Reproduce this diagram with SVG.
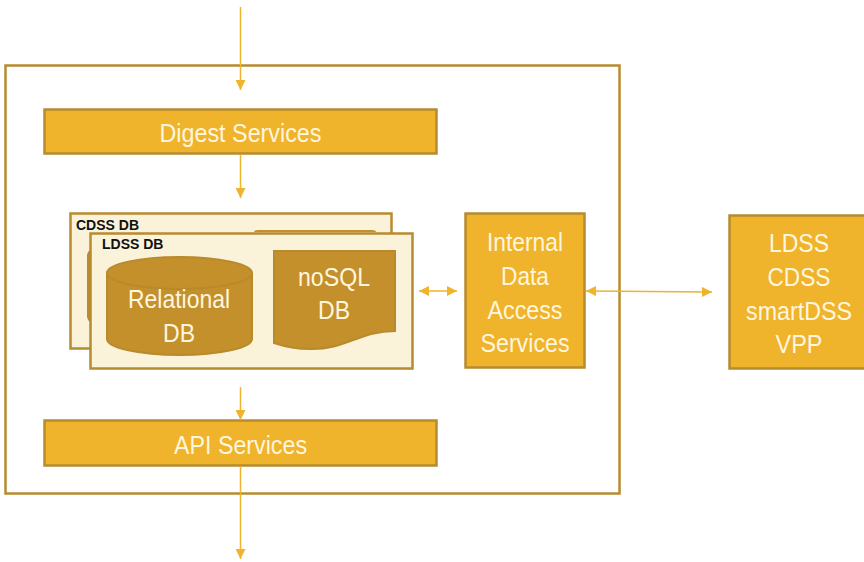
<svg xmlns="http://www.w3.org/2000/svg" width="864" height="562" viewBox="0 0 864 562">
<defs>
<marker id="ah" viewBox="0 0 10 10" refX="10" refY="5" markerWidth="10" markerHeight="10" markerUnits="userSpaceOnUse" orient="auto-start-reverse"><path d="M0 0L10 5L0 10Z" fill="#EFB32C"/></marker>
</defs>
<style>
.box{fill:#EFB32C;stroke:#B78B2F;stroke-width:2.5}
.panel{fill:#FAF2D9;stroke:#B78B2F;stroke-width:2.5}
.dark{fill:#C4902B;stroke:#B98A2C;stroke-width:2}
.t{font-family:"Liberation Sans",Arial,sans-serif;font-size:26px;fill:#FFF6DF;text-anchor:middle}
.l{font-family:"Liberation Sans",Arial,sans-serif;font-size:14px;font-weight:bold;fill:#111}
.c{stroke:#EFB32C;stroke-width:1.5;fill:none}
.a{marker-end:url(#ah)}
.b{marker-start:url(#ah);marker-end:url(#ah)}
</style>
<g id="system"><rect x="5.500" y="65.500" width="614" height="428" fill="#fff" stroke="#B78B2F" stroke-width="2.500"/></g>
<g id="digest"><rect class="box" x="44.500" y="109.500" width="392" height="44"/><text class="t" x="240.500" y="142" textLength="162" lengthAdjust="spacingAndGlyphs">Digest Services</text></g>
<g id="cdss-db"><rect class="panel" x="70.500" y="213.500" width="321" height="135"/>
<path d="M254 232Q254 230 258 230L372 230Q376 230 376 232Z" fill="#C4902B"/>
<path d="M92 249L92 323Q87 321 87 316L87 256Q87 251 92 249Z" fill="#B78B2F"/>
<text class="l" x="76" y="230">CDSS DB</text></g>
<g id="ldss-db"><rect class="panel" x="90.500" y="233.500" width="322" height="135"/><text class="l" x="102" y="249">LDSS DB</text></g>
<g id="relational"><path class="dark" d="M107 274L107 339A72.500 16 0 0 0 252 339L252 274A72.500 16 0 0 0 107 274Z"/><ellipse class="dark" cx="179.500" cy="273" rx="72.500" ry="16"/><text class="t" x="179" y="308" textLength="102" lengthAdjust="spacingAndGlyphs">Relational</text><text class="t" x="179" y="342" textLength="32" lengthAdjust="spacingAndGlyphs">DB</text></g>
<g id="nosql"><path class="dark" d="M274 251L395 251L395 331C360 331 345 350 310 349C295 349 283 346 274 343Z"/><text class="t" x="334" y="286" textLength="72" lengthAdjust="spacingAndGlyphs">noSQL</text><text class="t" x="334" y="319" textLength="32" lengthAdjust="spacingAndGlyphs">DB</text></g>
<g id="internal"><rect class="box" x="465.500" y="213.500" width="119" height="154"/><text class="t" x="525" y="251" textLength="76" lengthAdjust="spacingAndGlyphs">Internal</text><text class="t" x="525" y="285" textLength="48" lengthAdjust="spacingAndGlyphs">Data</text><text class="t" x="525" y="319" textLength="75" lengthAdjust="spacingAndGlyphs">Access</text><text class="t" x="525" y="352" textLength="89" lengthAdjust="spacingAndGlyphs">Services</text></g>
<g id="external"><rect class="box" x="729.500" y="215.500" width="140" height="153"/><text class="t" x="799" y="252" textLength="60" lengthAdjust="spacingAndGlyphs">LDSS</text><text class="t" x="799" y="286" textLength="63" lengthAdjust="spacingAndGlyphs">CDSS</text><text class="t" x="799" y="320" textLength="106" lengthAdjust="spacingAndGlyphs">smartDSS</text><text class="t" x="799" y="353" textLength="47" lengthAdjust="spacingAndGlyphs">VPP</text></g>
<g id="api"><rect class="box" x="44.500" y="420.500" width="392" height="45"/><text class="t" x="240.500" y="454" textLength="133" lengthAdjust="spacingAndGlyphs">API Services</text></g>
<g id="connectors">
<line class="c a" x1="240.500" y1="7" x2="240.500" y2="90"/>
<line class="c a" x1="240.500" y1="155" x2="240.500" y2="198"/>
<line class="c a" x1="240.500" y1="387" x2="240.500" y2="420"/>
<line class="c a" x1="240.500" y1="466" x2="240.500" y2="559"/>
<line class="c b" x1="419" y1="291" x2="457" y2="291"/>
<line class="c b" x1="586" y1="291" x2="712" y2="292"/>
</g>
</svg>
